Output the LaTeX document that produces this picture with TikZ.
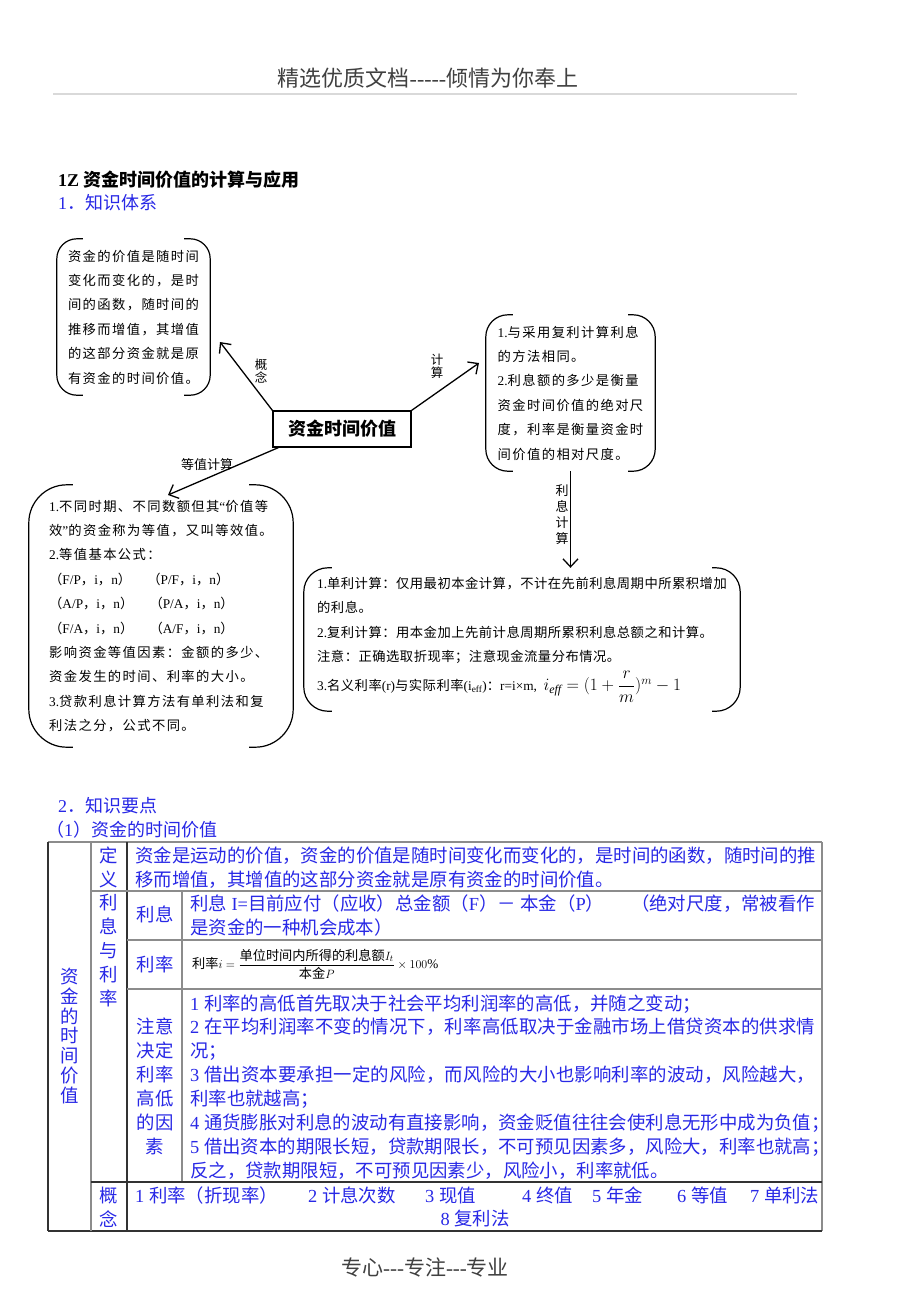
\documentclass[tikz,border=0pt]{standalone}
\usepackage{fontspec}
\usepackage{amsmath}
\usetikzlibrary{arrows.meta}
\setmainfont{Liberation Serif}
\newfontfamily\cjkfont{Noto Sans CJK SC}
\XeTeXinterchartokenstate=1
\newXeTeXintercharclass\CJKcls
\newcount\cjkc
\newcommand\setcjkrange[2]{\cjkc=#1\relax\loop\XeTeXcharclass\cjkc=\CJKcls\relax\ifnum\cjkc<#2\relax\advance\cjkc by 1\relax\repeat}
\setcjkrange{"3000}{"303F}
\setcjkrange{"4E00}{"9FFF}
\setcjkrange{"FF00}{"FFEF}
\newskip\cjkgap \cjkgap=0pt
\XeTeXinterchartoks 0 \CJKcls = {\begingroup\cjkfont}
\XeTeXinterchartoks 4095 \CJKcls = {\begingroup\cjkfont}
\XeTeXinterchartoks \CJKcls 0 = {\endgroup}
\XeTeXinterchartoks \CJKcls 4095 = {\endgroup}
\XeTeXinterchartoks \CJKcls \CJKcls = {\hskip\cjkgap\relax}
\newcommand\gapA{\cjkgap=1.4pt\relax}
\newcommand\gapB{\cjkgap=0.5pt\relax}
\newcommand\hy{-\kern0pt}
\newcommand\jl[2]{\makebox[#1][s]{\cjkgap=0pt plus 1pt\relax#2}}
\definecolor{tblue}{RGB}{40,40,230}
\definecolor{tgray}{RGB}{140,140,140}
\definecolor{tdark}{RGB}{50,50,50}
\newcommand\brackets[3]{%
\draw[brk, rounded corners=#2pt] ([xshift=#3pt]#1.north west) -- (#1.north west) -- (#1.south west) -- ([xshift=#3pt]#1.south west);
\draw[brk, rounded corners=#2pt] ([xshift=-#3pt]#1.north east) -- (#1.north east) -- (#1.south east) -- ([xshift=-#3pt]#1.south east);}
\begin{document}
\begin{tikzpicture}[x=1pt,y=-1pt,
  bx/.style={inner sep=0, align=left, font=\fontsize{13.3}{24.4}\selectfont\gapA},
  brk/.style={line width=1.2pt, black},
  arr/.style={line width=1.3pt, -{Straight Barb[length=8pt,width=15pt]}},
  lbl/.style={inner sep=0, align=center, font=\fontsize{12.5}{13}\selectfont},
  tt/.style={inner sep=0, text=tblue, font=\fontsize{18.4}{24}\selectfont},
  hd/.style={inner sep=0, anchor=west, text=tblue, font=\fontsize{18}{18}\selectfont},
  tlg/.style={tgray, line width=1.6pt},
  tld/.style={tdark, line width=1.6pt}]
\useasboundingbox (0,0) rectangle (920,1302);
\fill[white] (0,0) rectangle (920,1302);
% header / footer
\node[font=\fontsize{22}{22}\selectfont, text=black!75] (hdr) at (428,78) {精选优质文档\hy\hy\hy\hy\hy 倾情为你奉上};
\draw[black!15, line width=1.5pt] (53,94) -- (797,94);
\node[font=\fontsize{21}{21}\selectfont, text=black!75] (ftr) at (425,1267) {专心\hy\hy\hy 专注\hy\hy\hy 专业};
% titles
\node[inner sep=0, anchor=west, font=\bfseries\fontsize{18}{18}\selectfont] (ttl) at (58,180) {1Z\ 资金时间价值的计算与应用};
\node[hd] (s1) at (58,203) {1．知识体系};
% diagram
\node[bx, minimum width=153, minimum height=156] (A) at (133.5,317) {资金的价值是随时间\\变化而变化的，是时\\间的函数，随时间的\\推移而增值，其增值\\的这部分资金就是原\\有资金的时间价值。};
\brackets{A}{20}{26}
\node[bx, minimum width=169, minimum height=156] (B) at (570.5,393) {1.与采用复利计算利息\\的方法相同。\\2.利息额的多少是衡量\\资金时间价值的绝对尺\\度，利率是衡量资金时\\间价值的相对尺度。};
\brackets{B}{22}{27}
\node[bx, minimum width=264, minimum height=262] (C) at (161,616) {1.不同时期、不同数额但其“价值等\\效”的资金称为等值，又叫等效值。\\2.等值基本公式：\\（F/P，i，n）　（P/F，i，n）\\（A/P，i，n）　（P/A，i，n）\\（F/A，i，n）　（A/F，i，n）\\影响资金等值因素：金额的多少、\\资金发生的时间、利率的大小。\\3.贷款利息计算方法有单利法和复\\利法之分，公式不同。};
\brackets{C}{38}{44}
\node[bx, font=\fontsize{13.3}{24.6}\selectfont\gapB, minimum width=436, minimum height=143] (D) at (522,639.5) {1.单利计算：仅用最初本金计算，不计在先前利息周期中所累积增加\\的利息。\\2.复利计算：用本金加上先前计息周期所累积利息总额之和计算。\\注意：正确选取折现率；注意现金流量分布情况。\\[4pt]3.名义利率(r)与实际利率(i\textsubscript{eff})：r=i×m,\ \ {\fontsize{17}{17}\selectfont$i_{\mathit{eff}}=(1+\dfrac{r}{m})^m-1$}};
\brackets{D}{24}{28}
\node[draw, line width=1.2pt, inner sep=0, minimum width=138, minimum height=36, font=\bfseries\fontsize{18}{18}\selectfont] (C0) at (342,429) {资金时间价值};
\coordinate (tA) at (220,342);
\coordinate (tB) at (479,363);
\coordinate (tC) at (168,495);
\draw[arr] (C0.north west) -- (tA);
\draw[arr] (C0.north east) -- (tB);
\draw[arr] ([xshift=6pt]C0.south west) -- (tC);
\draw[arr] (B.south) -- (B.south |- D.north);
\node[lbl] (l1) at (261,371) {概\\念};
\node[lbl] (l2) at (437,366) {计\\算};
\node[lbl, font=\fontsize{13}{13}\selectfont] (l3) at (207,465) {等值计算};
\node[lbl, font=\fontsize{13}{16}\selectfont] (l4) at (562,515) {利\\息\\计\\算};
% section 2
\node[hd] (s2) at (58,806) {2．知识要点};
\node[hd] (s3) at (46,830) {（1）资金的时间价值};
% table lines
\draw[tlg] (48,842) -- (822,842);
\draw[tlg] (822,842) -- (822,1231);
\draw[tld] (48,1231) -- (822,1231);
\draw[tld] (48,842) -- (48,1231);
\draw[tlg] (91,842) -- (91,1231);
\draw[tld] (127,842) -- (127,1231);
\draw[tlg] (182,891) -- (182,1182);
\draw[tlg] (91,891) -- (822,891);
\draw[tlg] (127,940) -- (822,940);
\draw[tlg] (127,989) -- (822,989);
\draw[tld] (91,1182) -- (822,1182);
% table text
\node[tt, align=center, font=\fontsize{18.4}{19.8}\selectfont] (c1) at (70,1036) {资\\金\\的\\时\\间\\价\\值};
\node[tt, align=center] (c2a) at (109,867) {定\\义};
\node[tt, align=center] (c2b) at (109,951) {利\\息\\与\\利\\率};
\node[tt, align=center] (c2c) at (109,1207) {概\\念};
\node[tt] (c3a) at (155,914) {利息};
\node[tt] (c3b) at (155,964) {利率};
\node[tt, align=center] (c3c) at (155,1086) {注意\\决定\\利率\\高低\\的因\\素};
\node[tt, anchor=base west, align=left] (d1) at (135,886) {\jl{680pt}{资金是运动的价值，资金的价值是随时间变化而变化的，是时间的函数，随时间的推}\\移而增值，其增值的这部分资金就是原有资金的时间价值。};
\node[tt, anchor=base west, align=left] (d2) at (190,934) {\makebox[625pt][l]{利息 I=目前应付（应收）总金额（F）－ 本金（P）\hfill（绝对尺度，常被看作}\\是资金的一种机会成本）};
\node[inner sep=0, anchor=west, font=\fontsize{13.2}{14}\selectfont] (d3) at (192,964) {利率$i=\dfrac{\mbox{单位时间内所得的利息额}I_t}{\mbox{本金}P}\times100\%$};
\node[tt, anchor=base west, align=left, font=\fontsize{18.4}{23.9}\selectfont] (d4) at (190,1177.3) {1 利率的高低首先取决于社会平均利润率的高低，并随之变动；\\\jl{625pt}{2 在平均利润率不变的情况下，利率高低取决于金融市场上借贷资本的供求情}\\况；\\\jl{625pt}{3 借出资本要承担一定的风险，而风险的大小也影响利率的波动，风险越大，}\\利率也就越高；\\4 通货膨胀对利息的波动有直接影响，资金贬值往往会使利息无形中成为负值；\\5 借出资本的期限长短，贷款期限长，不可预见因素多，风险大，利率也就高；\\反之，贷款期限短，不可预见因素少，风险小，利率就低。};
\node[tt, anchor=base west] (e1) at (135,1202) {1 利率（折现率）};
\node[tt, anchor=base west] (e2) at (308,1202) {2 计息次数};
\node[tt, anchor=base west] (e3) at (425,1202) {3 现值};
\node[tt, anchor=base west] (e4) at (522,1202) {4 终值};
\node[tt, anchor=base west] (e5) at (592,1202) {5 年金};
\node[tt, anchor=base west] (e6) at (677,1202) {6 等值};
\node[tt, anchor=base west] (e7) at (750,1202) {7 单利法};
\node[tt, anchor=base] (e8) at (475,1225) {8 复利法};
\end{tikzpicture}
\end{document}
